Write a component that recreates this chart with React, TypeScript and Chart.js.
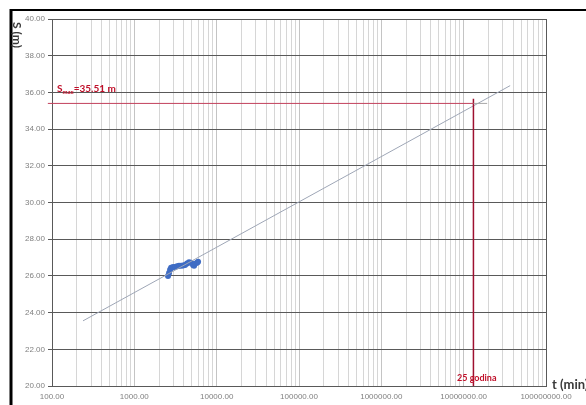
import React, { useEffect, useRef } from "react";
import { Chart, registerables } from "chart.js";

Chart.register(...registerables);

// Measured points (t in min, s in m)
const measT = [2566, 2640, 2718, 2795, 2952, 3124, 3302, 3492, 3692, 3906, 4130, 4366, 4619, 4885, 5164, 5311, 5465, 5781, 5943];
const measS = [26.0, 26.16, 26.33, 26.44, 26.49, 26.49, 26.52, 26.55, 26.55, 26.57, 26.6, 26.68, 26.74, 26.71, 26.6, 26.55, 26.66, 26.71, 26.77];

// Trend line ends
const trendT = [238, 36700000];
const trendS = [23.55, 36.37];

// Marker lines
const sMaxValue = 35.4;
const hLineT = [89, 13140000];
const hLineGrayT = [13140000, 19300000];
const vLineT = 13140000;
const vLineS = [20, 35.66];

const yMin = 20;
const yMax = 40;
const yStep = 2;
const xMin = 100;
const xMax = 100000000;

const isDecade = (v: number) => Math.abs(Math.log10(v) - Math.round(Math.log10(v))) < 1e-9;

export default function App() {
  const ref = useRef<HTMLCanvasElement | null>(null);

  useEffect(() => {
    if (!ref.current) return;
    const overlay = {
      id: "overlay",
      afterDraw(chart: any) {
        const ctx = chart.ctx as CanvasRenderingContext2D;
        ctx.save();
        // outer frame
        ctx.strokeStyle = "#000";
        ctx.lineWidth = 3;
        ctx.beginPath();
        ctx.moveTo(11, 9);
        ctx.lineTo(11, 405);
        ctx.stroke();
        ctx.lineWidth = 2;
        ctx.beginPath();
        ctx.moveTo(10, 10);
        ctx.lineTo(586, 10);
        ctx.stroke();

        // y title
        ctx.fillStyle = "#3a3a3a";
        ctx.font = "bold 12px Lato";
        ctx.textAlign = "center";
        ctx.textBaseline = "middle";
        ctx.save();
        ctx.translate(17, 35);
        ctx.rotate(Math.PI / 2);
        ctx.fillText("S (m)", 0, 0);
        ctx.restore();

        // x title
        ctx.font = "bold 13px Lato";
        ctx.textAlign = "left";
        ctx.textBaseline = "middle";
        ctx.fillText("t (min)", 552, 385);

        // Smax label
        ctx.fillStyle = "#c0102a";
        ctx.textBaseline = "alphabetic";
        ctx.font = "bold 10px Lato";
        let x = 57;
        const by = 92;
        ctx.fillText("S", x, by);
        x += ctx.measureText("S").width;
        ctx.font = "bold 6px Lato";
        ctx.fillText("max", x, by + 1.5);
        x += ctx.measureText("max").width;
        ctx.font = "bold 10px Lato";
        ctx.fillText("=35.51 m", x, by);

        // 25 godina
        ctx.font = "bold 9px Lato";
        ctx.fillText("25 godina", 457, 381);
        ctx.restore();
      },
    };

    const chart = new Chart(ref.current, {
      type: "scatter",
      data: {
        datasets: [
          {
            data: hLineT.map((t) => ({ x: t, y: sMaxValue })),
            showLine: true,
            borderColor: "#c2405c",
            borderWidth: 1,
            pointRadius: 0,
            clip: false as any,
          },
          {
            data: hLineGrayT.map((t) => ({ x: t, y: sMaxValue })),
            showLine: true,
            borderColor: "#a8a8a8",
            borderWidth: 1,
            pointRadius: 0,
          },
          {
            data: vLineS.map((s) => ({ x: vLineT, y: s })),
            showLine: true,
            borderColor: "#9e1030",
            borderWidth: 1.5,
            pointRadius: 0,
          },
          {
            data: trendT.map((t, i) => ({ x: t, y: trendS[i] })),
            showLine: true,
            borderColor: "#9ea6b6",
            borderWidth: 1,
            pointRadius: 0,
          },
          {
            data: measT.map((t, i) => ({ x: t, y: measS[i] })),
            showLine: false,
            backgroundColor: "#3f6cc4",
            borderColor: "#3f6cc4",
            pointRadius: 3,
            borderWidth: 0,
          },
        ],
      },
      options: {
        animation: false,
        responsive: false,
        maintainAspectRatio: false,
        layout: { padding: { top: 19, right: 40, left: 0, bottom: 0 } },
        plugins: { legend: { display: false }, tooltip: { enabled: false } },
        scales: {
          x: {
            type: "logarithmic",
            min: xMin,
            max: xMax,
            afterBuildTicks: (scale: any) => {
              const ticks: any[] = [];
              for (let e = 2; e < 8; e++) {
                for (let m = 1; m <= 9; m++) ticks.push({ value: m * Math.pow(10, e) });
              }
              ticks.push({ value: xMax });
              scale.ticks = ticks;
            },
            afterFit: (scale: any) => {
              scale.height = 19;
            },
            ticks: {
              autoSkip: false,
              maxRotation: 0,
              padding: 6,
              color: "#808080",
              font: { size: 8, family: "Liberation Sans" },
              callback: (v: any) => (isDecade(Number(v)) ? Number(v).toFixed(2) : ""),
            },
            grid: {
              tickLength: 0,
              color: (ctx: any) => {
                const v = ctx.tick ? ctx.tick.value : 0;
                if (Math.abs(v - xMax) < 1) return "#595959";
                return isDecade(v) ? "#c4c4c4" : "#d6d6d6";
              },
              lineWidth: 1,
            },
            border: { color: "#595959", width: 1 },
          },
          y: {
            min: yMin,
            max: yMax,
            afterFit: (scale: any) => {
              scale.width = 52;
            },
            ticks: {
              stepSize: yStep,
              padding: 3,
              color: "#808080",
              font: { size: 8, family: "Liberation Sans" },
              callback: (v: any) => Number(v).toFixed(2),
            },
            grid: {
              tickLength: 4,
              color: "#595959",
              lineWidth: 1,
            },
            border: { color: "#595959", width: 1 },
          },
        },
      },
      plugins: [overlay],
    });
    return () => chart.destroy();
  }, []);

  return (
    <div style={{ position: "fixed", left: 0, top: 0, width: 586, height: 405, background: "#fff" }}>
      <canvas ref={ref} width={586} height={405} style={{ width: 586, height: 405, display: "block" }} />
    </div>
  );
}
